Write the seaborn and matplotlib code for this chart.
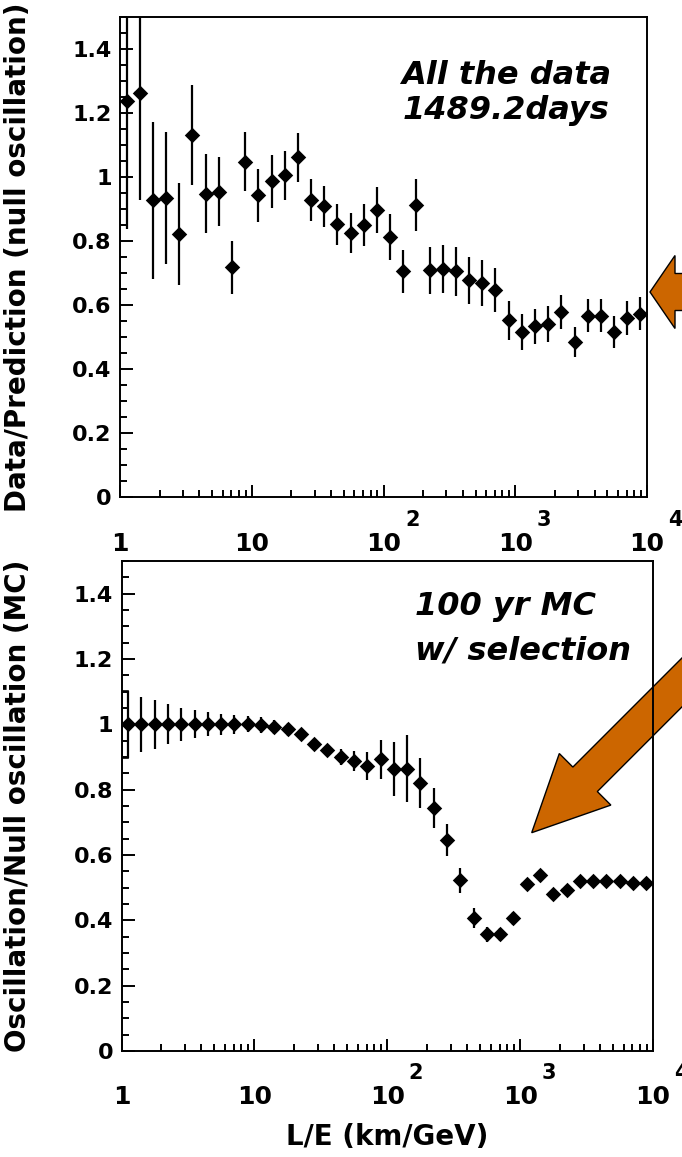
import numpy as np
import matplotlib
matplotlib.use("Agg")
import matplotlib.pyplot as plt
import seaborn as sns
import pandas as pd
from matplotlib.patches import Polygon, Rectangle
from matplotlib.ticker import MultipleLocator, LogLocator, NullFormatter, FixedLocator

# ---------------- data ----------------
log10_LE_centers = [0.05, 0.15, 0.25, 0.35, 0.45, 0.55, 0.65, 0.75, 0.85, 0.95,
                    1.05, 1.15, 1.25, 1.35, 1.45, 1.55, 1.65, 1.75, 1.85, 1.95,
                    2.05, 2.15, 2.25, 2.35, 2.45, 2.55, 2.65, 2.75, 2.85, 2.95,
                    3.05, 3.15, 3.25, 3.35, 3.45, 3.55, 3.65, 3.75, 3.85, 3.95]
bin_half_dec = 0.05

data_ratio = [1.236, 1.264, 0.927, 0.935, 0.823, 1.131, 0.948, 0.954, 0.718, 1.048,
              0.943, 0.986, 1.005, 1.061, 0.927, 0.909, 0.852, 0.825, 0.849, 0.897,
              0.812, 0.705, 0.912, 0.708, 0.713, 0.705, 0.677, 0.669, 0.648, 0.552,
              0.515, 0.533, 0.541, 0.578, 0.484, 0.567, 0.567, 0.517, 0.559, 0.573]
data_err = [0.400, 0.337, 0.246, 0.206, 0.159, 0.157, 0.124, 0.107, 0.083, 0.092,
            0.083, 0.082, 0.077, 0.076, 0.066, 0.064, 0.063, 0.062, 0.066, 0.071,
            0.071, 0.067, 0.081, 0.073, 0.076, 0.076, 0.073, 0.072, 0.069, 0.062,
            0.057, 0.056, 0.056, 0.054, 0.048, 0.051, 0.052, 0.050, 0.052, 0.052]

mc_ratio = [1.000, 1.000, 1.000, 1.000, 1.000, 1.000, 1.000, 1.000, 1.000, 1.000,
            0.997, 0.992, 0.985, 0.971, 0.939, 0.920, 0.900, 0.887, 0.872, 0.893,
            0.863, 0.864, 0.820, 0.745, 0.645, 0.522, 0.407, 0.357, 0.357, 0.407,
            0.510, 0.538, 0.480, 0.494, 0.520, 0.519, 0.520, 0.519, 0.514, 0.514]
mc_err = [0.103, 0.085, 0.074, 0.061, 0.051, 0.043, 0.037, 0.032, 0.030, 0.024,
          0.024, 0.022, 0.020, 0.015, 0.012, 0.015, 0.026, 0.030, 0.043, 0.060,
          0.083, 0.102, 0.076, 0.061, 0.049, 0.038, 0.030, 0.023, 0.020, 0.020,
          0.018, 0.015, 0.012, 0.010, 0.008, 0.006, 0.005, 0.005, 0.005, 0.005]

ytick_vals = [0, 0.2, 0.4, 0.6, 0.8, 1.0, 1.2, 1.4]
ytick_labels = ["0", "0.2", "0.4", "0.6", "0.8", "1", "1.2", "1.4"]
xtick_exps = [0, 1, 2, 3, 4]
xtick_labels = ["1", "10", "10", "10", "10"]

top_ylabel = "Data/Prediction (null oscillation)"
bot_ylabel = "Oscillation/Null oscillation (MC)"
xlabel = "L/E (km/GeV)"
top_note = ["All the data", "1489.2days"]
bot_note = ["100 yr MC", "w/ selection"]

# ---------------- style ----------------
sns.set_theme(style="ticks")
plt.rcParams["font.family"] = ["DejaVu Sans"]
plt.rcParams["font.weight"] = "bold"
plt.rcParams["axes.linewidth"] = 1.4
for key in ["text.color", "axes.labelcolor", "xtick.color", "ytick.color", "axes.edgecolor"]:
    plt.rcParams[key] = "black"

W, H = 682, 1157
fig = plt.figure(figsize=(W / 100, H / 100), dpi=100)
fig.patch.set_facecolor("white")


def fig_box(left, top, right, bottom):
    return [left / W, 1 - bottom / H, (right - left) / W, (bottom - top) / H]


ax1 = fig.add_axes(fig_box(120, 17, 647, 497), zorder=0)
ax2 = fig.add_axes(fig_box(121.5, 561, 653, 1051), zorder=1)
ax2.patch.set_alpha(0)

centers_log = np.array(log10_LE_centers)
centers = 10 ** centers_log
xlo = centers - 10 ** (centers_log - 0.04)
xhi = 10 ** (centers_log + 0.04) - centers


def draw_points(ax, vals, errs):
    df = pd.DataFrame({"LE": centers, "ratio": vals, "err": errs})
    ax.errorbar(df["LE"], df["ratio"], yerr=df["err"], xerr=[xlo, xhi], fmt="none",
                ecolor="black", elinewidth=1.6, capsize=0, zorder=2)
    sns.scatterplot(data=df, x="LE", y="ratio", marker="D", s=62, color="black",
                    edgecolor="black", linewidth=0, ax=ax, legend=False, zorder=3)


draw_points(ax1, data_ratio, data_err)
draw_points(ax2, mc_ratio, mc_err)

# open error box of the first MC bin (from the bin's low edge to its centre)
ax2.add_patch(Rectangle((10 ** (centers_log[0] - bin_half_dec), mc_ratio[0] - mc_err[0]),
                        centers[0] - 10 ** (centers_log[0] - bin_half_dec), 2 * mc_err[0],
                        fill=False, edgecolor="black", lw=1.2, zorder=2))


def style_axis(ax, label_pad, exp_dy):
    ax.set_xscale("log")
    ax.set_xlim(1, 1e4)
    ax.set_ylim(0, 1.5)
    ax.set_xlabel("")
    ax.set_ylabel("")
    ax.set_yticks(ytick_vals)
    ax.set_yticklabels(ytick_labels)
    ax.yaxis.set_minor_locator(MultipleLocator(0.05))
    ax.xaxis.set_major_locator(FixedLocator([10.0 ** e for e in xtick_exps]))
    ax.set_xticklabels(xtick_labels)
    ax.xaxis.set_minor_locator(LogLocator(base=10, subs=[2, 3, 4, 5, 6, 7, 8, 9]))
    ax.xaxis.set_minor_formatter(NullFormatter())
    ax.tick_params(which="both", direction="in", top=False, right=False,
                   width=1.4, color="black")
    ax.tick_params(which="major", length=9)
    ax.tick_params(which="minor", length=5)
    ax.tick_params(axis="y", which="major", labelsize=16, pad=6)
    ax.tick_params(axis="x", which="major", labelsize=18, pad=label_pad)
    for lab in ax.get_xticklabels() + ax.get_yticklabels():
        lab.set_fontweight("bold")
        lab.set_color("black")
    for s in ax.spines.values():
        s.set_color("black")
        s.set_linewidth(1.4)
    for e in xtick_exps:
        if e >= 2:
            ax.annotate(str(e), xy=(10.0 ** e, 0), xycoords=("data", "axes fraction"),
                        xytext=(15.5, -exp_dy), textcoords="offset points",
                        ha="left", va="bottom", fontsize=15, fontweight="bold",
                        color="black", annotation_clip=False)


style_axis(ax1, 25, 24)
style_axis(ax2, 24.5, 23)

# axis titles
fig.text(18 / W, 1 - 257 / H, top_ylabel, rotation=90, ha="center", va="center",
         fontsize=20, fontweight="bold", color="black")
fig.text(18 / W, 1 - 806 / H, bot_ylabel, rotation=90, ha="center", va="center",
         fontsize=20, fontweight="bold", color="black")
fig.text(387 / W, 1 - 1137 / H, xlabel, ha="center", va="center",
         fontsize=20, fontweight="bold", color="black")

# in-panel notes
note_kw = dict(fontsize=23, fontweight="bold", fontstyle="italic", color="black",
               va="baseline")
ax1.text(0.7325, 0.860, top_note[0], transform=ax1.transAxes, ha="center", **note_kw)
ax1.text(0.7325, 0.7875, top_note[1], transform=ax1.transAxes, ha="center", **note_kw)
ax2.text(0.552, 0.890, bot_note[0], transform=ax2.transAxes, ha="left", **note_kw)
ax2.text(0.552, 0.798, bot_note[1], transform=ax2.transAxes, ha="left", **note_kw)

# white strip where the lower pad hides the upper pad's tick labels
fig.add_artist(Rectangle((0, 1 - 559.5 / H), 1, 8.5 / H, transform=fig.transFigure,
                         facecolor="white", edgecolor="none", zorder=0.5))


def block_arrow(tip, tail, shaft_w, head_w, head_len):
    tip = np.asarray(tip, float)
    tail = np.asarray(tail, float)
    u = (tail - tip) / np.linalg.norm(tail - tip)
    n = np.array([-u[1], u[0]])
    base = tip + u * head_len
    pts = [tip, base + n * head_w / 2, base + n * shaft_w / 2, tail + n * shaft_w / 2,
           tail - n * shaft_w / 2, base - n * shaft_w / 2, base - n * head_w / 2]
    return [(p[0] / W, 1 - p[1] / H) for p in pts]


arrow_color = "#cc6600"
fig.add_artist(Polygon(block_arrow((650, 292), (740, 292), 37, 73, 25), closed=True,
                       transform=fig.transFigure, facecolor=arrow_color,
                       edgecolor="black", lw=1.0, zorder=0.8))
fig.add_artist(Polygon(block_arrow((531.7, 832.7), (760, 604.4), 34.6, 72.9, 75.5),
                       closed=True, transform=fig.transFigure, facecolor=arrow_color,
                       edgecolor="black", lw=1.0, zorder=0.8))

fig.savefig("out.png", dpi=100, facecolor="white")
